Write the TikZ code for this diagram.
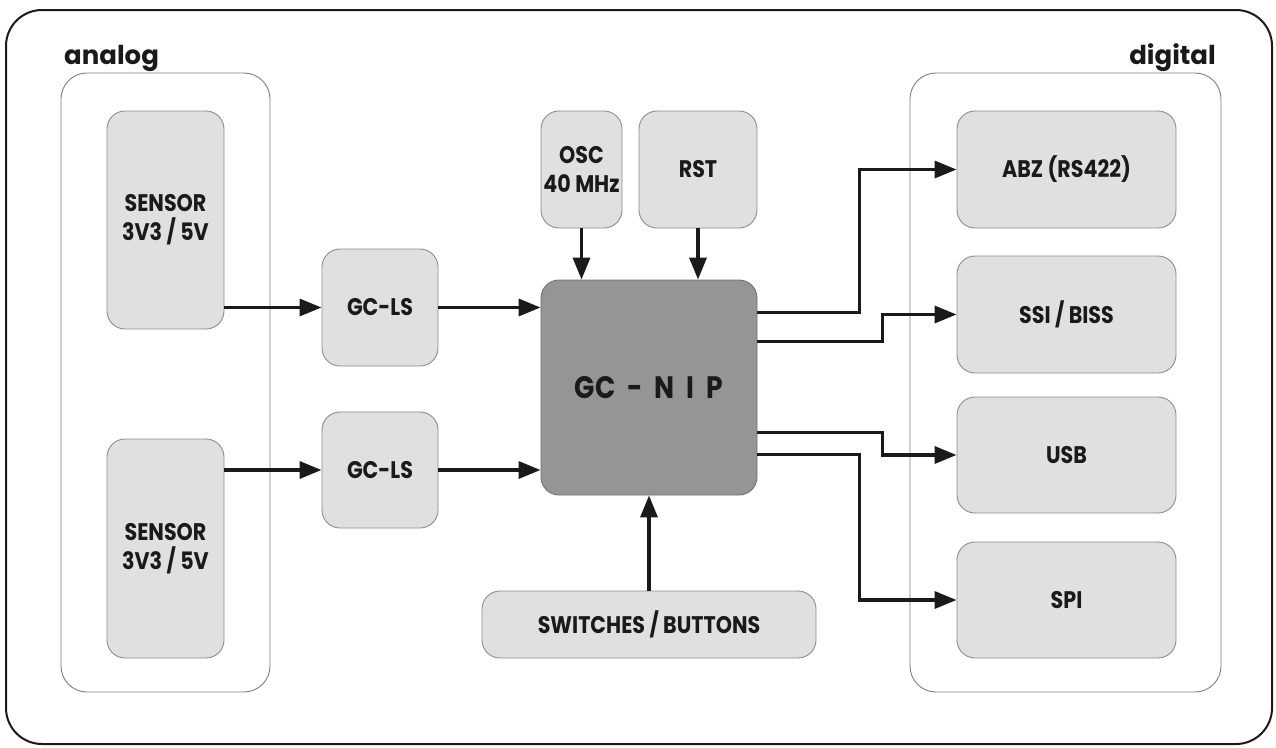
\documentclass[tikz,border=0pt]{standalone}
\usepackage{fontspec}
\setmainfont{Poppins}
\newfontfamily\labfont[FakeStretch=0.86]{Poppins}
\usetikzlibrary{arrows.meta,calc}
\definecolor{boxfill}{HTML}{E0E0DE}
\definecolor{boxline}{HTML}{8C8C8C}
\definecolor{nipfill}{HTML}{979593}
\definecolor{ink}{HTML}{1A1A1A}
\newcommand{\gapsp}{\hspace{12pt}}
\begin{document}
\begin{tikzpicture}[x=1pt,y=-1pt,
  box/.style={draw=boxline,fill=boxfill,line width=0.9pt,rounded corners=18pt,
    inner sep=0pt,align=center,text=ink,font=\labfont\bfseries\fontsize{24}{29}\selectfont},
  grp/.style={draw=boxline!90!black,line width=0.9pt,rounded corners=26pt},
  arr/.style={draw=ink,line width=3.4pt,line join=miter,
    -{Triangle[length=22pt,width=17pt]}},
  title/.style={text=ink,inner sep=0pt,font=\bfseries\fontsize{26}{30}\selectfont}]
\useasboundingbox (0,0) rectangle (1276,747);
% outer frame
\draw[line width=2pt,rounded corners=36pt,draw=ink] (6,10) rectangle (1272,744);
% groups
\draw[grp] (61,73) rectangle (270,692);
\draw[grp] (910,73) rectangle (1221,692);
\node[title,anchor=base west] (lanalog) at (64,64) {analog};
\node[title,anchor=base east] (ldigital) at (1216,64) {digital};
% analog side
\node[box,minimum width=117pt,minimum height=218pt] (s1) at (165.5,220) {SENSOR\\3V3 / 5V};
\node[box,minimum width=117pt,minimum height=219pt] (s2) at (165.5,548.5) {SENSOR\\3V3 / 5V};
\node[box,minimum width=116pt,minimum height=117pt] (g1) at (380,307.5) {GC-LS};
\node[box,minimum width=116pt,minimum height=116pt] (g2) at (380,470) {GC-LS};
% center
\node[box,fill=nipfill,draw=boxline!80!black,minimum width=216pt,minimum height=215pt,
  font=\labfont\bfseries\fontsize{31}{36}\selectfont] (nip) at (649,387.5) {GC\gapsp-\gapsp N\gapsp I\gapsp P};
\node[box,minimum width=81pt,minimum height=117pt] (osc) at (581.5,169.5) {OSC\\40 MHz};
\node[box,minimum width=118pt,minimum height=117pt] (rst) at (698,169.5) {RST};
\node[box,minimum width=334pt,minimum height=67pt] (sw) at (649,624.5) {SWITCHES / BUTTONS};
% digital side
\node[box,minimum width=219pt,minimum height=117pt] (abz) at (1066.5,169.5) {ABZ (RS422)};
\node[box,minimum width=219pt,minimum height=117pt] (ssi) at (1066.5,314.5) {SSI / BISS};
\node[box,minimum width=219pt,minimum height=116pt] (usb) at (1066.5,455) {USB};
\node[box,minimum width=219pt,minimum height=116pt] (spi) at (1066.5,600) {SPI};
% connectors
\draw[arr] (s1.east |- g1.west) -- (g1.west);
\draw[arr] (s2.east |- g2.west) -- (g2.west);
\draw[arr] (g1.east) -- (g1.east -| nip.west);
\draw[arr] (g2.east) -- (g2.east -| nip.west);
\draw[arr] (osc.south) -- (osc.south |- nip.north);
\draw[arr] (rst.south) -- (rst.south |- nip.north);
\draw[arr] (sw.north) -- (nip.south);
\draw[arr] ([yshift=-33pt]nip.north east) -- ++(102,0) |- (abz.west);
\draw[arr] ([yshift=-62pt]nip.north east) -- ++(125,0) |- (ssi.west);
\draw[arr] ([yshift=-153pt]nip.north east) -- ++(125,0) |- (usb.west);
\draw[arr] ([yshift=-175pt]nip.north east) -- ++(102,0) |- (spi.west);
\end{tikzpicture}
\end{document}
